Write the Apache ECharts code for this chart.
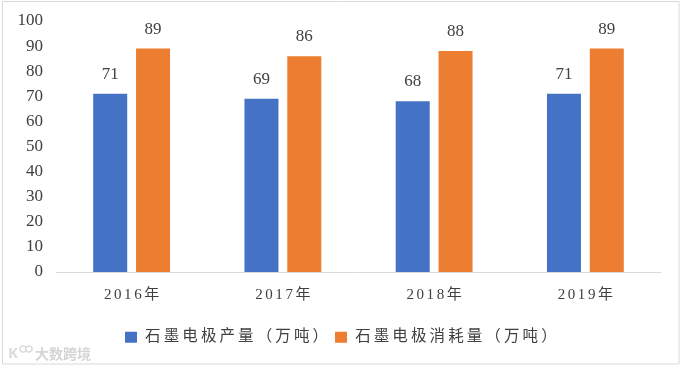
<!DOCTYPE html>
<html><head><meta charset="utf-8">
<style>html,body{margin:0;padding:0;background:#fff}#c{width:683px;height:370px}</style>
<script src="https://cdn.jsdelivr.net/npm/echarts@6/dist/echarts.min.js"></script>
</head><body><div id="c"></div>
<script>
const categories = ['2016年','2017年','2018年','2019年'];
const productionName = '石墨电极产量（万吨）';
const consumptionName = '石墨电极消耗量（万吨）';
const production = [71,69,68,71];
const consumption = [89,86,88,89];
const yTicks = {min:0,max:100,interval:10};
const watermark = '大数跨境';
const font = '"Liberation Serif","Noto Sans CJK SC",serif';
const chart = echarts.init(document.getElementById('c'),null,{renderer:'canvas'});
const label = {show:true,position:'top',distance:11,color:'#404040',fontSize:17,fontFamily:font};
chart.setOption({
  animation:false,
  backgroundColor:'#fff',
  grid:{left:56,right:22,top:21,bottom:98,containLabel:false},
  xAxis:{type:'category',data:categories,
    axisLine:{lineStyle:{color:'#d9d9d9',width:1}},axisTick:{show:false},
    axisLabel:{color:'#404040',fontSize:15,fontFamily:font,margin:16,formatter:v=>v.split('').join('\u200a\u200a')}},
  yAxis:{type:'value',min:yTicks.min,max:yTicks.max,interval:yTicks.interval,
    axisLine:{show:false},axisTick:{show:false},splitLine:{show:false},
    axisLabel:{color:'#404040',fontSize:17,fontFamily:font,margin:13}},
  legend:{bottom:20,left:120,itemWidth:12,itemHeight:11,itemGap:7,icon:'rect',
    textStyle:{color:'#404040',fontSize:15.5,fontFamily:font},
    formatter:n=>'\u2009'+n.split('').join('\u2009')},
  series:[
    {name:productionName,type:'bar',data:production,barWidth:34,barGap:'26%',itemStyle:{color:'#4472c4'},label},
    {name:consumptionName,type:'bar',data:consumption,barWidth:34,barGap:'26%',itemStyle:{color:'#ed7d31'},label}
  ],
  graphic:[
    {type:'rect',shape:{x:2.5,y:1.5,width:676.5,height:362.5},style:{fill:'none',stroke:'#d9d9d9',lineWidth:1},silent:true},
    {type:'text',x:8,y:346,style:{text:'K',fill:'#dcdcdc',fontSize:15,fontWeight:'bold',fontFamily:'"Noto Sans"'},silent:true},
    {type:'circle',shape:{cx:23,cy:349,r:3},style:{fill:'none',stroke:'#dcdcdc',lineWidth:1.5},silent:true},
    {type:'circle',shape:{cx:29,cy:349,r:3},style:{fill:'none',stroke:'#dcdcdc',lineWidth:1.5},silent:true},
    {type:'text',x:35,y:347,style:{text:watermark,fill:'#d4d4d4',fontSize:14,fontFamily:'"Noto Sans CJK SC"',fontWeight:'bold'},silent:true}
  ]
});
</script></body></html>
